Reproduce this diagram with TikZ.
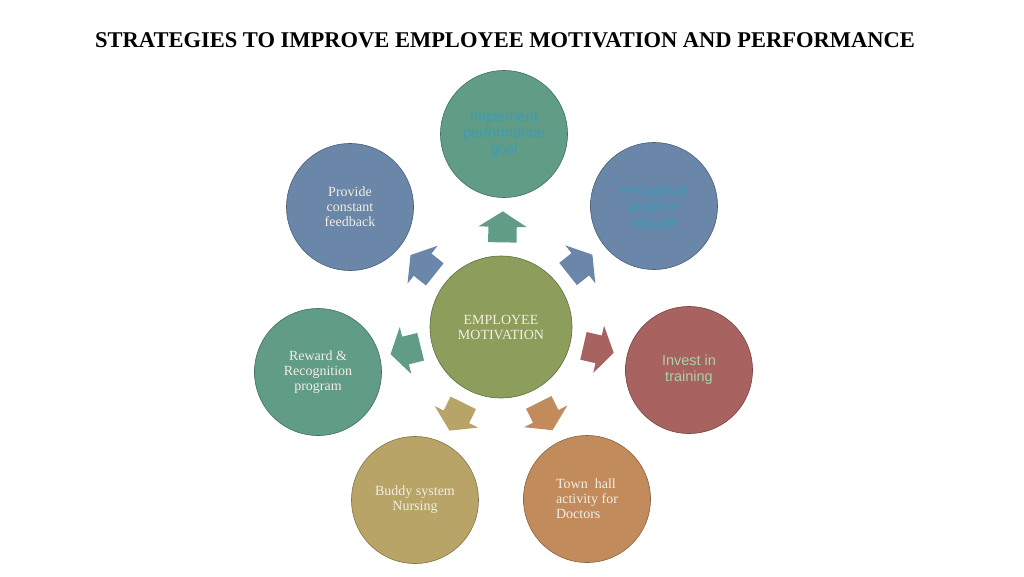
\documentclass[tikz,border=0pt]{standalone}
\usepackage{fontspec}
\setmainfont{Liberation Serif}
\setsansfont{Liberation Sans}
\usetikzlibrary{shapes.arrows}
\definecolor{cteal}{HTML}{609C86}
\definecolor{cblue}{HTML}{6A86A8}
\definecolor{colive}{HTML}{8C9D5C}
\definecolor{cred}{HTML}{A8625F}
\definecolor{ckhaki}{HTML}{B8A467}
\definecolor{corange}{HTML}{C28B5C}
\definecolor{tcream}{HTML}{F2EFE2}
\definecolor{tblue}{HTML}{3C9CB6}
\definecolor{tgreen}{HTML}{AAD2A2}
\colorlet{rimcol}{cteal}
\pgfdeclareradialshading[rimcol]{rim}{\pgfpoint{0bp}{0bp}}{color(0bp)=(rimcol);color(43bp)=(rimcol);color(50bp)=(rimcol!78!black)}
\tikzset{
  rimset/.code={\colorlet{rimcol}{#1}},
  circ/.style={circle, minimum size=127pt, inner sep=0pt, draw=#1!70!black, line width=0.6pt, rimset=#1, shading=rim, align=center},
  serift/.style={text=tcream, font=\fontsize{14}{15}\selectfont},
  sanst/.style={font=\sffamily\fontsize{14.5}{16}\selectfont},
  arr/.style={single arrow, draw=none, fill=#1, minimum height=31pt, inner xsep=0pt, inner ysep=14pt, single arrow head extend=10pt, single arrow tip angle=115, sloped, allow upside down, pos=0.42},
}
\begin{document}
\begin{tikzpicture}[x=1pt,y=-1pt]
\useasboundingbox[fill=white] (0,0) rectangle (1024,576);
\node (title) at (505,40) {\bfseries\fontsize{22.5}{24}\selectfont STRATEGIES TO IMPROVE EMPLOYEE MOTIVATION AND PERFORMANCE};
\node[circ=colive, minimum size=142pt, serift] (ctr) at (501,327) {EMPLOYEE\\MOTIVATION};
\node[circ=cteal, sanst, text=tblue] (top) at (504,134) {Implement\\performance\\goal};
\node[circ=cblue, sanst, text=tblue] (tr) at (654,206) {Recognize\\positive\\attitude};
\node[circ=cblue, serift] (tl) at (350,207) {Provide\\constant\\feedback};
\node[circ=cteal, serift] (lft) at (318,372) {Reward \&\\Recognition\\program};
\node[circ=cred, sanst, text=tgreen] (rgt) at (689,370) {Invest in\\training};
\node[circ=ckhaki, serift] (bl) at (415,500) {Buddy system\\Nursing};
\node[circ=corange, serift, align=left] (br) at (587,499) {Town\ \ hall\\activity for\\Doctors};
\path (ctr) -- node[arr=cteal] (a1) {} (top);
\path (ctr) -- node[arr=cblue] (a2) {} (tr);
\path (ctr) -- node[arr=cblue] (a3) {} (tl);
\path (ctr) -- node[arr=cteal] (a4) {} (lft);
\path (ctr) -- node[arr=cred] (a5) {} (rgt);
\path (ctr) -- node[arr=ckhaki] (a6) {} (bl);
\path (ctr) -- node[arr=corange] (a7) {} (br);
\end{tikzpicture}
\end{document}
